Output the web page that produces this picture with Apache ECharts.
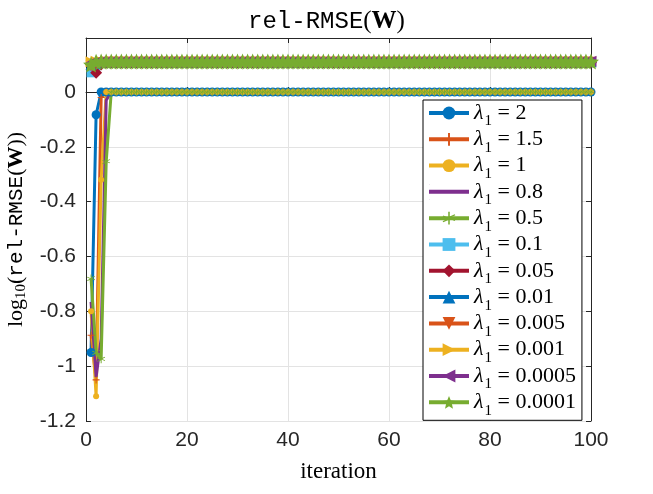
<html>
<head>
    <meta charset="utf-8">
    <title>rel-RMSE(W)</title>
    <script src="https://cdn.jsdelivr.net/npm/echarts@6/dist/echarts.min.js"></script>
</head>
<body style="margin:0;">
    <div id="main" style="width: 653px;height:494px;"></div>
    <script type="text/javascript">
        // iteration index (x values)
        var iterations = [
            1,2,3,4,5,6,7,8,9,10,
            11,12,13,14,15,16,17,18,19,20,
            21,22,23,24,25,26,27,28,29,30,
            31,32,33,34,35,36,37,38,39,40,
            41,42,43,44,45,46,47,48,49,50,
            51,52,53,54,55,56,57,58,59,60,
            61,62,63,64,65,66,67,68,69,70,
            71,72,73,74,75,76,77,78,79,80,
            81,82,83,84,85,86,87,88,89,90,
            91,92,93,94,95,96,97,98,99,100
        ];

        var lambdaLabels = ['2', '1.5', '1', '0.8', '0.5', '0.1', '0.05', '0.01', '0.005', '0.001', '0.0005', '0.0001'];

        // log10(rel-RMSE(W)) per lambda_1
        var lam2 = [
            -0.95,-0.083,0,0,0,0,0,0,0,0,
            0,0,0,0,0,0,0,0,0,0, 0,0,0,0,0,0,0,0,0,0,
            0,0,0,0,0,0,0,0,0,0, 0,0,0,0,0,0,0,0,0,0,
            0,0,0,0,0,0,0,0,0,0, 0,0,0,0,0,0,0,0,0,0,
            0,0,0,0,0,0,0,0,0,0, 0,0,0,0,0,0,0,0,0,0,
            0,0,0,0,0,0,0,0,0,0
        ];
        var lam1p5 = [
            -0.887,-1.05,-0.02,0,0,0,0,0,0,0,
            0,0,0,0,0,0,0,0,0,0, 0,0,0,0,0,0,0,0,0,0,
            0,0,0,0,0,0,0,0,0,0, 0,0,0,0,0,0,0,0,0,0,
            0,0,0,0,0,0,0,0,0,0, 0,0,0,0,0,0,0,0,0,0,
            0,0,0,0,0,0,0,0,0,0, 0,0,0,0,0,0,0,0,0,0,
            0,0,0,0,0,0,0,0,0,0
        ];
        var lam1 = [
            -0.80,-1.11,-0.32,0,0,0,0,0,0,0,
            0,0,0,0,0,0,0,0,0,0, 0,0,0,0,0,0,0,0,0,0,
            0,0,0,0,0,0,0,0,0,0, 0,0,0,0,0,0,0,0,0,0,
            0,0,0,0,0,0,0,0,0,0, 0,0,0,0,0,0,0,0,0,0,
            0,0,0,0,0,0,0,0,0,0, 0,0,0,0,0,0,0,0,0,0,
            0,0,0,0,0,0,0,0,0,0
        ];
        var lam0p8 = [
            -0.766,-1.04,-0.9,-0.03,0,0,0,0,0,0,
            0,0,0,0,0,0,0,0,0,0, 0,0,0,0,0,0,0,0,0,0,
            0,0,0,0,0,0,0,0,0,0, 0,0,0,0,0,0,0,0,0,0,
            0,0,0,0,0,0,0,0,0,0, 0,0,0,0,0,0,0,0,0,0,
            0,0,0,0,0,0,0,0,0,0, 0,0,0,0,0,0,0,0,0,0,
            0,0,0,0,0,0,0,0,0,0
        ];
        var lam0p5 = [
            -0.68,-0.95,-0.975,-0.254,0,0,0,0,0,0,
            0,0,0,0,0,0,0,0,0,0, 0,0,0,0,0,0,0,0,0,0,
            0,0,0,0,0,0,0,0,0,0, 0,0,0,0,0,0,0,0,0,0,
            0,0,0,0,0,0,0,0,0,0, 0,0,0,0,0,0,0,0,0,0,
            0,0,0,0,0,0,0,0,0,0, 0,0,0,0,0,0,0,0,0,0,
            0,0,0,0,0,0,0,0,0,0
        ];
        var lam0p1 = [
            0.07,0.095,0.108,0.11,0.11,0.11,0.11,0.11,0.11,0.11,
            0.11,0.11,0.11,0.11,0.11,0.11,0.11,0.11,0.11,0.11, 0.11,0.11,0.11,0.11,0.11,0.11,0.11,0.11,0.11,0.11,
            0.11,0.11,0.11,0.11,0.11,0.11,0.11,0.11,0.11,0.11, 0.11,0.11,0.11,0.11,0.11,0.11,0.11,0.11,0.11,0.11,
            0.11,0.11,0.11,0.11,0.11,0.11,0.11,0.11,0.11,0.11, 0.11,0.11,0.11,0.11,0.11,0.11,0.11,0.11,0.11,0.11,
            0.11,0.11,0.11,0.11,0.11,0.11,0.11,0.11,0.11,0.11, 0.11,0.11,0.11,0.11,0.11,0.11,0.11,0.11,0.11,0.11,
            0.11,0.11,0.11,0.11,0.11,0.11,0.11,0.11,0.11,0.11
        ];
        var lam0p05 = [
            0.1,0.07,0.1,0.108,0.108,0.108,0.108,0.108,0.108,0.108,
            0.108,0.108,0.108,0.108,0.108,0.108,0.108,0.108,0.108,0.108, 0.108,0.108,0.108,0.108,0.108,0.108,0.108,0.108,0.108,0.108,
            0.108,0.108,0.108,0.108,0.108,0.108,0.108,0.108,0.108,0.108, 0.108,0.108,0.108,0.108,0.108,0.108,0.108,0.108,0.108,0.108,
            0.108,0.108,0.108,0.108,0.108,0.108,0.108,0.108,0.108,0.108, 0.108,0.108,0.108,0.108,0.108,0.108,0.108,0.108,0.108,0.108,
            0.108,0.108,0.108,0.108,0.108,0.108,0.108,0.108,0.108,0.108, 0.108,0.108,0.108,0.108,0.108,0.108,0.108,0.108,0.108,0.108,
            0.108,0.108,0.108,0.108,0.108,0.108,0.108,0.108,0.108,0.108
        ];
        var lam0p01 = [
            0.1,0.105,0.11,0.11,0.11,0.11,0.11,0.11,0.11,0.11,
            0.11,0.11,0.11,0.11,0.11,0.11,0.11,0.11,0.11,0.11, 0.11,0.11,0.11,0.11,0.11,0.11,0.11,0.11,0.11,0.11,
            0.11,0.11,0.11,0.11,0.11,0.11,0.11,0.11,0.11,0.11, 0.11,0.11,0.11,0.11,0.11,0.11,0.11,0.11,0.11,0.11,
            0.11,0.11,0.11,0.11,0.11,0.11,0.11,0.11,0.11,0.11, 0.11,0.11,0.11,0.11,0.11,0.11,0.11,0.11,0.11,0.11,
            0.11,0.11,0.11,0.11,0.11,0.11,0.11,0.11,0.11,0.11, 0.11,0.11,0.11,0.11,0.11,0.11,0.11,0.11,0.11,0.11,
            0.11,0.11,0.11,0.11,0.11,0.11,0.11,0.11,0.11,0.11
        ];
        var lam0p005 = [
            0.095,0.1,0.108,0.109,0.109,0.109,0.109,0.109,0.109,0.109,
            0.109,0.109,0.109,0.109,0.109,0.109,0.109,0.109,0.109,0.109, 0.109,0.109,0.109,0.109,0.109,0.109,0.109,0.109,0.109,0.109,
            0.109,0.109,0.109,0.109,0.109,0.109,0.109,0.109,0.109,0.109, 0.109,0.109,0.109,0.109,0.109,0.109,0.109,0.109,0.109,0.109,
            0.109,0.109,0.109,0.109,0.109,0.109,0.109,0.109,0.109,0.109, 0.109,0.109,0.109,0.109,0.109,0.109,0.109,0.109,0.109,0.109,
            0.109,0.109,0.109,0.109,0.109,0.109,0.109,0.109,0.109,0.109, 0.109,0.109,0.109,0.109,0.109,0.109,0.109,0.109,0.109,0.109,
            0.109,0.109,0.109,0.109,0.109,0.109,0.109,0.109,0.109,0.109
        ];
        var lam0p001 = [
            0.11,0.112,0.112,0.112,0.112,0.112,0.112,0.112,0.112,0.112,
            0.112,0.112,0.112,0.112,0.112,0.112,0.112,0.112,0.112,0.112, 0.112,0.112,0.112,0.112,0.112,0.112,0.112,0.112,0.112,0.112,
            0.112,0.112,0.112,0.112,0.112,0.112,0.112,0.112,0.112,0.112, 0.112,0.112,0.112,0.112,0.112,0.112,0.112,0.112,0.112,0.112,
            0.112,0.112,0.112,0.112,0.112,0.112,0.112,0.112,0.112,0.112, 0.112,0.112,0.112,0.112,0.112,0.112,0.112,0.112,0.112,0.112,
            0.112,0.112,0.112,0.112,0.112,0.112,0.112,0.112,0.112,0.112, 0.112,0.112,0.112,0.112,0.112,0.112,0.112,0.112,0.112,0.112,
            0.112,0.112,0.112,0.112,0.112,0.112,0.112,0.112,0.112,0.112
        ];
        var lam0p0005 = [
            0.108,0.11,0.112,0.112,0.112,0.112,0.112,0.112,0.112,0.112,
            0.112,0.112,0.112,0.112,0.112,0.112,0.112,0.112,0.112,0.112, 0.112,0.112,0.112,0.112,0.112,0.112,0.112,0.112,0.112,0.112,
            0.112,0.112,0.112,0.112,0.112,0.112,0.112,0.112,0.112,0.112, 0.112,0.112,0.112,0.112,0.112,0.112,0.112,0.112,0.112,0.112,
            0.112,0.112,0.112,0.112,0.112,0.112,0.112,0.112,0.112,0.112, 0.112,0.112,0.112,0.112,0.112,0.112,0.112,0.112,0.112,0.112,
            0.112,0.112,0.112,0.112,0.112,0.112,0.112,0.112,0.112,0.112, 0.112,0.112,0.112,0.112,0.112,0.112,0.112,0.112,0.112,0.112,
            0.112,0.112,0.112,0.112,0.112,0.112,0.112,0.112,0.112,0.112
        ];
        var lam0p0001 = [
            0.1,0.11,0.111,0.111,0.111,0.111,0.111,0.111,0.111,0.111,
            0.111,0.111,0.111,0.111,0.111,0.111,0.111,0.111,0.111,0.111, 0.111,0.111,0.111,0.111,0.111,0.111,0.111,0.111,0.111,0.111,
            0.111,0.111,0.111,0.111,0.111,0.111,0.111,0.111,0.111,0.111, 0.111,0.111,0.111,0.111,0.111,0.111,0.111,0.111,0.111,0.111,
            0.111,0.111,0.111,0.111,0.111,0.111,0.111,0.111,0.111,0.111, 0.111,0.111,0.111,0.111,0.111,0.111,0.111,0.111,0.111,0.111,
            0.111,0.111,0.111,0.111,0.111,0.111,0.111,0.111,0.111,0.111, 0.111,0.111,0.111,0.111,0.111,0.111,0.111,0.111,0.111,0.111,
            0.111,0.111,0.111,0.111,0.111,0.111,0.111,0.111,0.111,0.111
        ];

        var allValues = [lam2, lam1p5, lam1, lam0p8, lam0p5, lam0p1, lam0p05, lam0p01, lam0p005, lam0p001, lam0p0005, lam0p0001];

        // MATLAB default colour order
        var colors = ['#0072BD', '#D95319', '#EDB120', '#7E2F8E', '#77AC30', '#4DBEEE', '#A2142F',
                      '#0072BD', '#D95319', '#EDB120', '#7E2F8E', '#77AC30'];

        var plusPath = 'path://M8.5,0h3v8.5h8.5v3h-8.5v8.5h-3v-8.5h-8.5v-3h8.5z';
        var astPath = 'path://M9,0h2v7.3l6.3-3.6 1,1.7-6.3,3.6 6.3,3.6-1,1.7-6.3-3.6V20h-2v-7.3l-6.3,3.6-1-1.7 6.3-3.6-6.3-3.6 1-1.7 6.3,3.6z';
        var starPath = 'path://M10,0L12.9,6.9L20,7.6L14.6,12.3L16.2,19.5L10,15.7L3.8,19.5L5.4,12.3L0,7.6L7.1,6.9Z';
        // legend icon for the series drawn without markers: just a bar
        var barPath = 'path://M0,0h0.5v0.1h-0.5zM0,5.5h40v4h-40zM0,15h0.5v0.1h-0.5z';

        var markers = [
            { symbol: 'circle', size: 9, rot: 0 },
            { symbol: plusPath, size: 7, rot: 0 },
            { symbol: 'circle', size: 6, rot: 0 },
            { symbol: 'none', size: 0, rot: 0 },
            { symbol: astPath, size: 8, rot: 0 },
            { symbol: 'rect', size: 9, rot: 0 },
            { symbol: 'diamond', size: 12, rot: 0 },
            { symbol: 'triangle', size: 11, rot: 0 },
            { symbol: 'triangle', size: 11, rot: 180 },
            { symbol: 'triangle', size: 11, rot: -90 },
            { symbol: 'triangle', size: 11, rot: 90 },
            { symbol: starPath, size: 16, rot: 0 }
        ];

        var axisColor = '#262626';
        var tickFont = 'Liberation Sans, Arial, sans-serif';
        var serif = 'Liberation Serif, Times New Roman, serif';
        var mono = 'Liberation Mono, Courier New, monospace';

        var myChart = echarts.init(document.getElementById('main'));

        var series = allValues.map(function (vals, idx) {
            var m = markers[idx];
            return {
                name: lambdaLabels[idx],
                type: 'line',
                xAxisIndex: 0,
                yAxisIndex: 0,
                data: iterations.map(function (it, j) { return [it, vals[j]]; }),
                symbol: m.symbol,
                symbolSize: m.size,
                symbolRotate: m.rot,
                showSymbol: m.symbol !== 'none',
                lineStyle: { width: 3, color: colors[idx] },
                itemStyle: { color: colors[idx] },
                clip: true,
                animation: false
            };
        });

        var legendData = lambdaLabels.map(function (lab, idx) {
            return markers[idx].symbol === 'none' ? { name: lab, icon: barPath } : { name: lab };
        });

        option = {
            animation: false,
            backgroundColor: '#fff',
            title: {
                text: '{m|rel-RMSE}{a|(}{b|W}{a|)}',
                left: 'center',
                top: 4,
                textStyle: {
                    fontWeight: 'normal',
                    rich: {
                        m: { fontFamily: mono, fontSize: 24, fontWeight: 'normal', color: '#000' },
                        a: { fontFamily: serif, fontSize: 25, fontWeight: 'normal', color: '#000' },
                        b: { fontFamily: serif, fontSize: 25, fontWeight: 'bold', color: '#000' }
                    }
                }
            },
            grid: { left: 86, right: 62, top: 38, bottom: 73, containLabel: false, outerBoundsMode: 'none' },
            legend: {
                orient: 'vertical',
                left: 423,
                top: 100,
                padding: [2, 6, 2, 4],
                itemWidth: 40,
                itemHeight: 16,
                itemGap: -0.7,
                backgroundColor: '#fff',
                borderColor: '#000',
                borderWidth: 1,
                borderRadius: 0,
                lineStyle: { width: 4 },
                formatter: function (name) {
                    return '{l|λ}{s|1}{t| = ' + name + '}';
                },
                textStyle: {
                    rich: {
                        l: { fontFamily: serif, fontStyle: 'italic', fontSize: 22, color: '#000', lineHeight: 20 },
                        s: { fontFamily: serif, fontSize: 15, color: '#000', verticalAlign: 'bottom', lineHeight: 20, padding: [0, 0, -6, 1] },
                        t: { fontFamily: serif, fontSize: 22, color: '#000', lineHeight: 20 }
                    }
                },
                data: legendData
            },
            xAxis: [{
                type: 'value',
                min: 0,
                max: 100,
                interval: 20,
                name: 'iteration',
                nameLocation: 'middle',
                nameGap: 39,
                nameTextStyle: { fontFamily: serif, fontSize: 23, color: '#000' },
                axisLine: { show: true, lineStyle: { color: axisColor, width: 1 } },
                axisTick: { show: true, inside: true, length: 5, lineStyle: { color: axisColor } },
                axisLabel: { fontFamily: tickFont, fontSize: 21, color: axisColor, margin: 9 },
                splitLine: { show: true, lineStyle: { color: '#e3e3e3', width: 1 } }
            }, {
                type: 'value',
                position: 'top',
                min: 0,
                max: 100,
                interval: 20,
                axisLine: { show: true, onZero: false, lineStyle: { color: axisColor, width: 1 } },
                axisTick: { show: true, inside: true, length: 5, lineStyle: { color: axisColor } },
                axisLabel: { show: false },
                splitLine: { show: false }
            }],
            yAxis: [{
                type: 'value',
                min: -1.2,
                max: 0.197,
                interval: 0.2,
                name: '{a|log}{s|10}{a|(}{m|rel-RMSE}{a|(}{b|W}{a|))}',
                nameLocation: 'middle',
                nameGap: 54,
                nameRotate: 90,
                nameTextStyle: {
                    rich: {
                        a: { fontFamily: serif, fontSize: 22, color: '#000' },
                        s: { fontFamily: serif, fontSize: 15, color: '#000', padding: [10, 0, 0, 0] },
                        m: { fontFamily: mono, fontSize: 21, color: '#000' },
                        b: { fontFamily: serif, fontSize: 22, fontWeight: 'bold', color: '#000' }
                    }
                },
                axisLine: { show: true, onZero: false, lineStyle: { color: axisColor, width: 1 } },
                axisTick: { show: true, inside: true, length: 5, lineStyle: { color: axisColor } },
                axisLabel: { fontFamily: tickFont, fontSize: 21, color: axisColor, margin: 10, showMaxLabel: false },
                splitLine: { show: true, lineStyle: { color: '#e3e3e3', width: 1 } }
            }, {
                type: 'value',
                position: 'right',
                min: -1.2,
                max: 0.197,
                interval: 0.2,
                axisLine: { show: true, onZero: false, lineStyle: { color: axisColor, width: 1 } },
                axisTick: { show: true, inside: true, length: 5, lineStyle: { color: axisColor } },
                axisLabel: { show: false },
                splitLine: { show: false }
            }],
            series: series
        };

        myChart.setOption(option);
    </script>
</body>
</html>
